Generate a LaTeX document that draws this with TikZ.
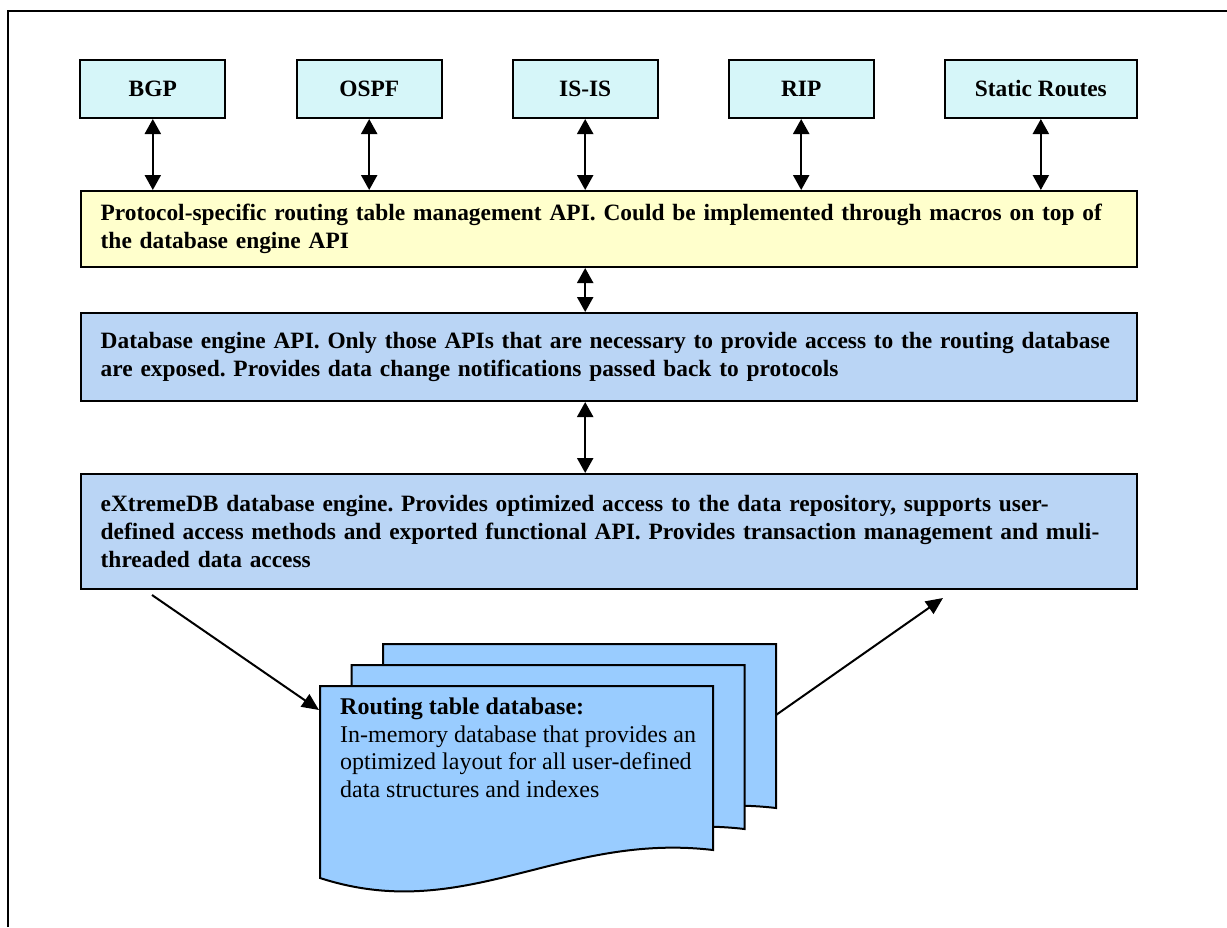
\documentclass[tikz,border=0pt]{standalone}
\usepackage{fontspec}
\setmainfont{Liberation Serif}
\usetikzlibrary{arrows.meta,calc}
\definecolor{protofill}{RGB}{214,246,249}
\definecolor{apifill}{RGB}{255,255,204}
\definecolor{enginefill}{RGB}{186,213,245}
\definecolor{docfill}{RGB}{153,204,255}
\frenchspacing
\begin{document}
\begin{tikzpicture}[x=1pt, y=-1pt, line join=miter,
	proto/.style={draw, line width=2pt, fill=protofill, minimum height=58, inner sep=0pt, font=\fontsize{23.4}{28}\selectfont\bfseries},
	layer/.style={draw, line width=2pt, text width=1016pt, align=left, inner xsep=20pt, inner ysep=0pt, anchor=north west, font=\fontsize{23.4}{28}\selectfont\bfseries},
	dbl/.style={line width=2.2pt, {Triangle[width=16pt,length=15pt]}-{Triangle[width=16pt,length=15pt]}},
	sarrow/.style={line width=2pt, -{Triangle[width=15pt,length=17pt]}},
	sheet/.style={draw, line width=2pt, fill=docfill}]
	\useasboundingbox (0,0) rectangle (1227,927);
	\draw[line width=2pt] (8,927)--(8,11)--(1227,11);
	% routing protocols
	\foreach \nm/\lbl/\xl/\bw in {bgp/BGP/79.3/145, ospf/OSPF/295.7/145, isis/IS-IS/511.7/145, rip/RIP/727.7/145, static/Static Routes/943.7/192.3}
		\node[proto, minimum width=\bw, anchor=north west] (\nm) at (\xl,59) {\lbl};
	\node[layer, fill=apifill, minimum height=76] (api) at (79.7,190)
		{Protocol-specific routing table management API. Could be implemented through macros on top of\\the database engine API};
	\node[layer, fill=enginefill, minimum height=88] (engapi) at (79.7,312)
		{Database engine API. Only those APIs that are necessary to provide access to the routing database\\are exposed. Provides data change notifications passed back to protocols};
	\node[layer, fill=enginefill, minimum height=115] (engine) at (79.7,473)
		{eXtremeDB database engine. Provides optimized access to the data repository, supports user-\\defined access methods and exported functional API. Provides transaction management and muli-\\threaded data access};
	\foreach \nm in {bgp,ospf,isis,rip,static}
		\draw[dbl] (\nm.south)--(\nm.south |- api.north);
	\draw[dbl] (isis.south |- api.south)--(isis.south |- engapi.north);
	\draw[dbl] (isis.south |- engapi.south)--(isis.south |- engine.north);
	% stacked database sheets
	\foreach \dx/\dy in {63/-42, 31.5/-21, 0/0}
		\draw[sheet, shift={(\dx,\dy)}] (320,878)--(320,686)--(713,686)--(713,850)
			.. controls (560,832) and (465,925) .. cycle;
	\node[anchor=north west, inner sep=0pt, align=left, font=\fontsize{24}{27.5}\selectfont] (dbtext) at (340,698)
		{\textbf{Routing table database:}\\In-memory database that provides an\\optimized layout for all user-defined\\data structures and indexes};
	\coordinate (engin) at (152,595);
	\coordinate (docin) at (319,710);
	\coordinate (docout) at (776,715);
	\coordinate (engout) at (943,598);
	\draw[sarrow] (engin)--(docin);
	\draw[sarrow] (docout)--(engout);
\end{tikzpicture}
\end{document}
